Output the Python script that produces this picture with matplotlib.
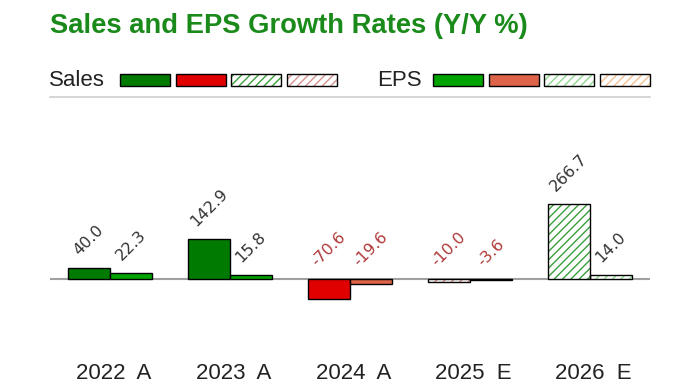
import matplotlib
matplotlib.use('Agg')
import matplotlib.pyplot as plt
from matplotlib.patches import Rectangle
from matplotlib.lines import Line2D
import numpy as np

years = ['2022  A', '2023  A', '2024  A', '2025  E', '2026  E']
sales = [40.0, 142.9, -70.6, -10.0, 266.7]
eps = [22.3, 15.8, -19.6, -3.6, 14.0]
estimate = [False, False, False, True, True]

# colours: actual +, actual -, estimate + (hatch), estimate - (hatch)
sales_cols = ['#007a00', '#e00000', '#3aa03a', '#d89090']
eps_cols = ['#00a400', '#dd6448', '#90d890', '#f5c090']

W, H = 700, 387
fig = plt.figure(figsize=(7, 3.87), dpi=100)

def fx(px):
    return px / W

def fy(py):
    return 1 - py / H

# axes from x 50..650, y 110..355 px; zero line at y=279, 0.28 px per unit
ax = fig.add_axes([fx(50), fy(355), fx(600), (355 - 110) / H])
scale = 0.28
ax.set_ylim(-(355 - 279) / scale, (279 - 110) / scale)
ax.set_xlim(-0.5, 4.5)
for s in ax.spines.values():
    s.set_visible(False)
ax.set_yticks([])
ax.axhline(0, color='#a0a0a0', lw=1.5, zorder=1)

x = np.arange(len(years))
w = 0.35

def draw(xs, vals, cols):
    for xi, v, est in zip(xs, vals, estimate):
        if est:
            c = cols[2] if v >= 0 else cols[3]
            ax.bar(xi, v, w, color='white', edgecolor=c, hatch='////', lw=0, zorder=2)
            ax.bar(xi, v, w, fill=False, edgecolor='black', lw=1.0, zorder=3)
        else:
            c = cols[0] if v >= 0 else cols[1]
            ax.bar(xi, v, w, color=c, edgecolor='black', lw=1.0, zorder=3)
        base = v if v > 0 else 0
        ax.annotate(f'{v:.1f}', (xi, base), xytext=(0, 7), textcoords='offset points',
                    ha='center', va='bottom', rotation=45, fontsize=11.5,
                    family='DejaVu Sans',
                    color='#333333' if v >= 0 else '#b03a3a')

draw(x - w / 2, sales, sales_cols)
draw(x + w / 2, eps, eps_cols)

ax.set_xticks(x + 0.03)
ax.set_xticklabels(years, fontsize=16, family='Liberation Sans', color='#222222')
ax.tick_params(axis='x', length=0, pad=6)

# title
fig.text(fx(50), fy(26), 'Sales and EPS Growth Rates (Y/Y %)', fontsize=19.7,
         fontweight='bold', color='#1a8a1a', family='Liberation Sans',
         ha='left', va='center')

# legend row
fig.text(fx(49), fy(80), 'Sales', fontsize=16, family='Liberation Sans',
         color='#222222', ha='left', va='center')
fig.text(fx(377), fy(80), 'EPS', fontsize=16, family='Liberation Sans',
         color='#222222', ha='left', va='center')

def legend_boxes(x0, cols):
    for k, c in enumerate(cols):
        bx = x0 + k * 55.5
        r = Rectangle((fx(bx), fy(86)), fx(50), 12 / H, transform=fig.transFigure,
                      facecolor=c if k < 2 else 'white',
                      edgecolor=c if k >= 2 else 'black',
                      hatch='////' if k >= 2 else None, lw=0 if k >= 2 else 1.0)
        fig.patches.append(r)
        if k >= 2:
            fig.patches.append(Rectangle((fx(bx), fy(86)), fx(50), 12 / H,
                                         transform=fig.transFigure, fill=False,
                                         edgecolor='black', lw=1.0))

legend_boxes(120, sales_cols)
legend_boxes(433, eps_cols)

fig.lines.append(Line2D([fx(50), fx(650)], [fy(97), fy(97)], transform=fig.transFigure,
                        color='#d0d0d0', lw=1.2))

fig.savefig('out.png', dpi=100)
